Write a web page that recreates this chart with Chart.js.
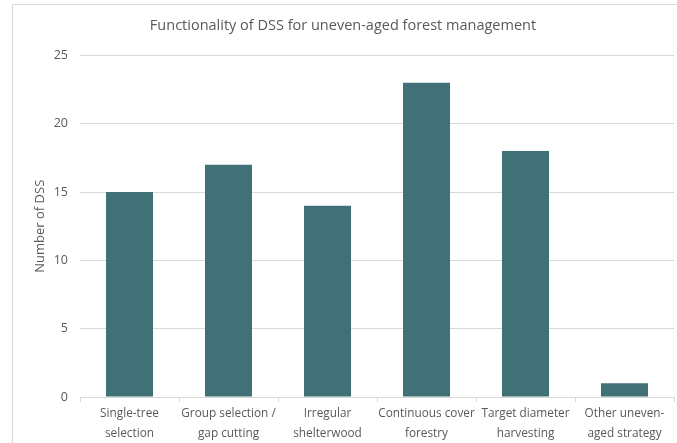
<!DOCTYPE html>
<html>
<head>
<meta charset="utf-8">
<script src="https://cdn.jsdelivr.net/npm/chart.js@4/dist/chart.umd.min.js"></script>
<style>
  html, body { margin: 0; padding: 0; background: #ffffff; overflow: hidden; }
  #frame { position: absolute; left: 12px; top: 4px; width: 700px; height: 500px;
           border: 1px solid #d9d9d9; box-sizing: border-box; }
  #wrap { position: absolute; left: 0; top: 0; width: 677px; height: 443px; }
</style>
</head>
<body>
<div id="frame"></div>
<div id="wrap"><canvas id="chart" width="677" height="443"></canvas></div>
<script>
// Uneven-aged management strategies supported by the reviewed DSS
const categories = [
  ['Single-tree', 'selection'],
  ['Group selection /', 'gap cutting'],
  ['Irregular', 'shelterwood'],
  ['Continuous cover', 'forestry'],
  ['Target diameter', 'harvesting'],
  ['Other uneven-', 'aged strategy']
];
const dssCounts = [15, 17, 14, 23, 18, 1];
const yTicks = [0, 5, 10, 15, 20, 25];

const fontFamily = "'Open Sans', 'Liberation Sans', sans-serif";
const textColor = '#595959';
const gridColor = '#d9d9d9';

new Chart(document.getElementById('chart'), {
  type: 'bar',
  data: {
    labels: categories,
    datasets: [{
      label: 'Number of DSS',
      data: dssCounts,
      backgroundColor: '#417077',
      borderWidth: 0,
      categoryPercentage: 1.0,
      barPercentage: 0.475
    }]
  },
  options: {
    responsive: false,
    animation: false,
    devicePixelRatio: 1,
    layout: { padding: { left: 12, right: 3, top: 0, bottom: 0 } },
    plugins: {
      legend: { display: false },
      tooltip: { enabled: false },
      title: {
        display: true,
        text: 'Functionality of DSS for uneven-aged forest management',
        color: textColor,
        font: { family: fontFamily, size: 14.5, weight: 'normal' },
        padding: { top: 17, bottom: 21 }
      }
    },
    scales: {
      x: {
        grid: {
          offset: true,
          drawOnChartArea: false,
          drawTicks: true,
          tickLength: 5,
          color: gridColor
        },
        border: { display: true, color: gridColor },
        ticks: {
          color: textColor,
          font: { family: fontFamily, size: 11.8, lineHeight: 1.65 },
          padding: 2,
          maxRotation: 0,
          autoSkip: false
        },
        afterFit: (scale) => { scale.height = 46; }
      },
      y: {
        min: 0,
        max: 25,
        afterBuildTicks: (scale) => { scale.ticks = yTicks.map(v => ({ value: v })); },
        grid: { color: gridColor, drawTicks: false },
        border: { display: false },
        ticks: {
          color: textColor,
          font: { family: fontFamily, size: 12.5 },
          padding: 12
        },
        title: {
          display: true,
          text: 'Number of DSS',
          color: textColor,
          font: { family: fontFamily, size: 13 },
          padding: { top: 20, bottom: 0 }
        },
        afterFit: (scale) => { scale.width = 68; }
      }
    }
  }
});
</script>
</body>
</html>
